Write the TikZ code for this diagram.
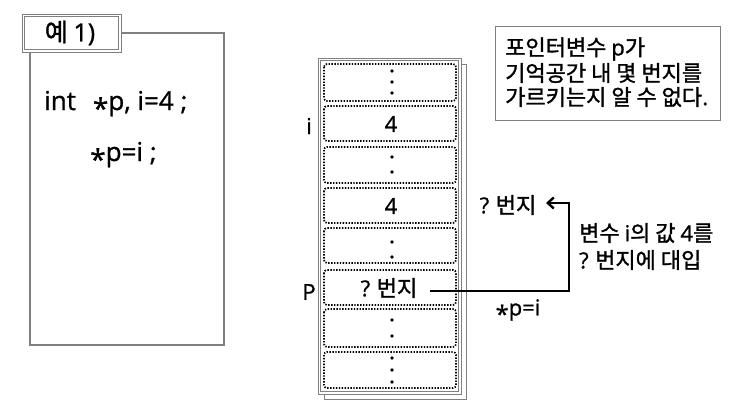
\documentclass[tikz,border=0pt]{standalone}
\usepackage{fontspec}
\setmainfont{Noto Sans CJK KR}[FakeBold=1.4]
\newfontfamily\lat{Open Sans}[FakeBold=1.0]
\newcommand\lowast{\raisebox{-0.33em}{\scalebox{1.08}{*}}}
\usetikzlibrary{arrows.meta}
\definecolor{framegray}{RGB}{128,128,128}
\begin{document}
\begin{tikzpicture}[x=1pt,y=-1pt,
  txt/.style={inner sep=0pt,font=\fontsize{22}{24}\selectfont},
  codetxt/.style={inner sep=0pt,font=\fontsize{26}{28}\selectfont\lat},
  cellbox/.style={draw=black,line width=1.7pt,dash pattern=on 1.4pt off 1.5pt,rounded corners=3pt},
  dotmark/.style={fill=black,circle,inner sep=0pt,minimum size=3.6pt},
  grayframe/.style={draw=framegray,line width=1.2pt,fill=white},
  arrowline/.style={line width=2.4pt,-{Straight Barb[length=6pt,width=11pt,line width=2.4pt]}}]
\useasboundingbox (0,0) rectangle (739,410);
% left code box
\draw[grayframe] (30,33) rectangle (224,345);
\draw[draw=framegray,line width=1pt,fill=white] (22,14) rectangle (121,52);
\draw[draw=framegray,line width=0.8pt] (24.5,16.5) rectangle (118.5,49.5);
\node[txt,font=\fontsize{25}{28}\selectfont] (title) at (70,33) {예 {\lat 1)}};
\node[codetxt,anchor=base west] (code1) at (44,110) {int\hspace{17pt}\lowast p, i=4 ;};
\node[codetxt,anchor=base west] (code2) at (90,161) {\lowast p=i ;};
% memory frame
\draw[draw=framegray,line width=0.8pt] (324,64) rectangle (466,399);
\draw[draw=framegray,line width=0.8pt,fill=white] (318,58) rectangle (461,394);
\draw[draw=framegray,line width=0.6pt] (320.5,60.5) rectangle (458.5,391.5);
% cells
\foreach \t/\b [count=\k] in {64/101,106/141,147/183,188/223,228/263,270/305,309/347,352/388}{
  \draw[cellbox] (324,\t) rectangle (456,\b);
}
% cell contents
\node[dotmark] (d11) at (392,71) {};
\node[dotmark] (d12) at (392,82) {};
\node[dotmark] (d13) at (392,93) {};
\node[txt] (c2) at (391,124) {\lat 4};
\node[dotmark] (d31) at (392,157) {};
\node[dotmark] (d32) at (392,172) {};
\node[txt] (c4) at (391,206) {\lat 4};
\node[dotmark] (d51) at (392,242) {};
\node[dotmark] (d52) at (392,257) {};
\node[txt] (c6) at (389,288) {{\lat ?} 번지};
\node[dotmark] (d71) at (392,320) {};
\node[dotmark] (d72) at (392,336) {};
\node[dotmark] (d81) at (392,358) {};
\node[dotmark] (d82) at (392,370) {};
\node[dotmark] (d83) at (392,382) {};
% side labels
\node[txt] (li) at (309,126) {\lat i};
\node[txt] (lp) at (309,292) {\lat P};
% note box
\draw[draw=framegray,line width=1pt] (495,26) rectangle (720,120);
\node[txt,anchor=west] (n1) at (505,49) {포인터변수 {\lat p}가};
\node[txt,anchor=west] (n2) at (505,73) {기억공간 내 몇 번지를};
\node[txt,anchor=west] (n3) at (505,97) {가르키는지 알 수 없다.};
% arrow and labels
\node[txt] (target) at (508,205) {{\lat ?} 번지};
\coordinate (s) at (430,291);
\coordinate (corner1) at (569,291);
\coordinate (corner2) at (569,203);
\coordinate (tip) at (546,203);
\draw[arrowline] (s) -- (corner1) -- (corner2) -- (tip);
\node[txt,anchor=west] (e1) at (579,233) {변수 {\lat i}의 값 {\lat 4}를};
\node[txt,anchor=west] (e2) at (579,260) {{\lat ?} 번지에 대입};
\node[txt] (assign) at (518,311) {{\lat\lowast p=i}};
\end{tikzpicture}
\end{document}
